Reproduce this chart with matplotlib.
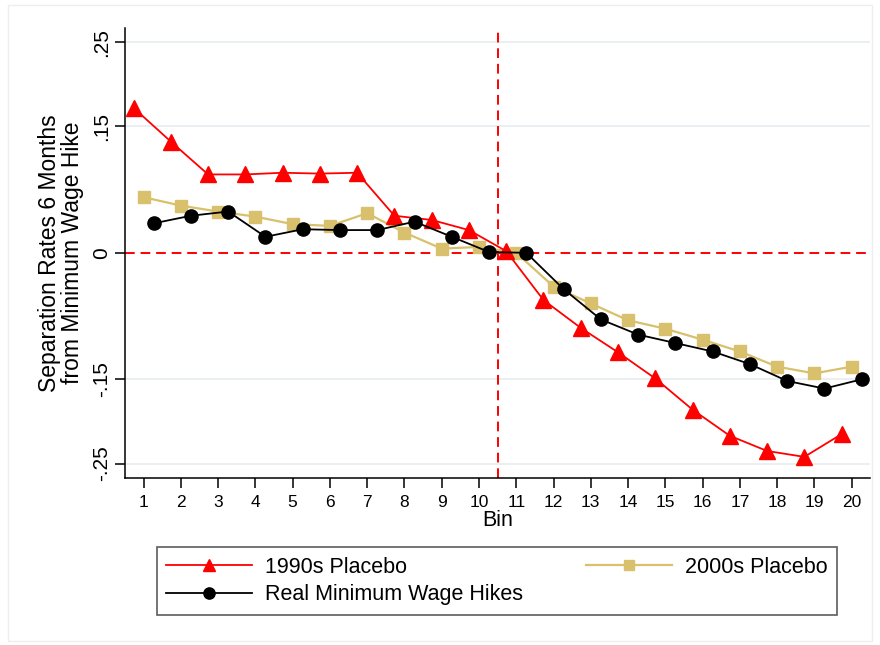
from matplotlib import pyplot as plt
from matplotlib.patches import Rectangle
import numpy as np

bins = np.arange(1, 21)

# 1990s placebo (red triangles)
placebo_1990s = [0.172, 0.132, 0.093, 0.093, 0.095, 0.094, 0.095, 0.044, 0.039, 0.027,
                 0.002, -0.056, -0.089, -0.118, -0.149, -0.186, -0.217, -0.235, -0.242, -0.215]
# 2000s placebo (sand squares)
placebo_2000s = [0.066, 0.056, 0.049, 0.043, 0.034, 0.032, 0.047, 0.024, 0.005, 0.007,
                 0.0, -0.040, -0.060, -0.080, -0.090, -0.103, -0.117, -0.135, -0.143, -0.135]
# real minimum wage hikes (black circles)
real_hikes = [0.035, 0.044, 0.049, 0.019, 0.028, 0.027, 0.027, 0.037, 0.019, 0.001,
              0.0, -0.043, -0.079, -0.097, -0.107, -0.117, -0.132, -0.152, -0.161, -0.150]

yticks = [0.25, 0.15, 0, -0.15, -0.25]
ytick_labels = [".25", ".15", "0", "-.15", "-.25"]

plt.rcParams['font.family'] = ['Liberation Sans', 'DejaVu Sans']

fig = plt.figure(figsize=(8.8, 6.45), dpi=100)
ax = fig.add_axes([0.142, 0.259, 0.847, 0.698])

sand = "#d8c06c"
offset = 0.27

# grid lines (Stata style)
for yv in yticks:
    if yv != 0:
        ax.axhline(yv, color="#e8eff1", lw=1.3, zorder=0)

ax.axhline(0, color="red", lw=1.4, ls=(0, (5, 3)), zorder=1)
ax.axvline(10.5, color="red", lw=1.4, ls=(0, (5, 3)), zorder=1)

l1, = ax.plot(bins - offset, placebo_1990s, color="red", lw=1.3, marker="^",
              markersize=11, zorder=3, label="1990s Placebo")
l2, = ax.plot(bins, placebo_2000s, color=sand, lw=1.6, marker="s",
              markersize=9, zorder=2, label="2000s Placebo")
l3, = ax.plot(bins + offset, real_hikes, color="black", lw=1.3, marker="o",
              markersize=9.5, zorder=4, label="Real Minimum Wage Hikes")

ax.set_xlim(0.5, 20.5)
ax.set_ylim(-0.267, 0.267)
ax.set_xticks(bins)
ax.set_xticklabels([str(b) for b in bins], fontsize=12.5)
ax.set_yticks(yticks)
ax.set_yticklabels(ytick_labels, fontsize=15, rotation=90, va="center")
ax.tick_params(axis="both", direction="out", length=7, width=1.1, color="black")
ax.tick_params(axis="x", pad=5)
ax.tick_params(axis="y", pad=3)

for s in ["top", "right"]:
    ax.spines[s].set_visible(False)
for s in ["left", "bottom"]:
    ax.spines[s].set_linewidth(1.1)

ax.set_xlabel("Bin", fontsize=15.5, labelpad=0)
ax.set_ylabel("Separation Rates 6 Months\nfrom Minimum Wage Hike", fontsize=16.5,
              labelpad=6, linespacing=1.0)

leg = fig.legend(handles=[l1, l3, l2], ncol=2, loc="center",
                 bbox_to_anchor=(0.178, 0.043, 0.773, 0.112), mode="expand",
                 bbox_transform=fig.transFigure, borderaxespad=0, fontsize=15.5,
                 handlelength=4.0, handletextpad=0.6, markerscale=0.85,
                 frameon=True, fancybox=False, edgecolor="#333333",
                 labelspacing=0.3, borderpad=0.45)
leg.get_frame().set_linewidth(1.2)

# faint outer frame of the graph region
fig.patches.append(Rectangle((0.009, 0.006), 0.982, 0.986, transform=fig.transFigure,
                             fill=False, edgecolor="#eeeeee", lw=1))

plt.savefig("out.png", dpi=100)
